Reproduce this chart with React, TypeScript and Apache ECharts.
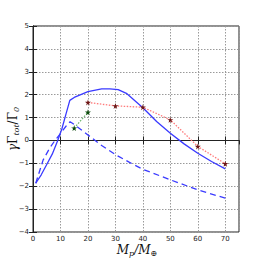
import React, { useEffect, useRef } from "react";
import * as echarts from "echarts";

// Solid blue curve
const solidX = [1, 3, 5, 7, 9, 10.5, 12, 13.4, 15, 20, 25, 28, 31, 34, 40, 45, 50, 55, 60, 65, 70];
const solidY = [-1.87, -1.5, -1.05, -0.6, 0, 0.5, 1.15, 1.75, 1.88, 2.13, 2.25, 2.25, 2.22, 2.06, 1.43, 0.83, 0.31, -0.15, -0.56, -0.92, -1.24];
// Dashed blue curve
const dashX = [1, 2.5, 3.7, 6, 8, 10, 12, 13.5, 15, 20, 25, 30, 35, 40, 50, 60, 70];
const dashY = [-1.87, -1.3, -0.85, -0.35, 0.0, 0.3, 0.62, 0.82, 0.7, 0.24, -0.22, -0.62, -0.95, -1.26, -1.72, -2.16, -2.52];
// Red dotted with markers
const redX = [20, 30, 40, 50, 60, 70];
const redY = [1.66, 1.51, 1.45, 0.9, -0.26, -1.02];
// Green dotted with markers
const greenX = [15, 20];
const greenY = [0.54, 1.23];

const xTicks = [0, 10, 20, 30, 40, 50, 60, 70];
const yTicks = [-4, -3, -2, -1, 0, 1, 2, 3, 4, 5];

const STAR = "path://M50,0 L61,35 L98,35 L68,57 L79,91 L50,70 L21,91 L32,57 L2,35 L39,35 Z";

const zip = (xs: number[], ys: number[]) => xs.map((x, i) => [x, ys[i]]);

export default function App() {
  const ref = useRef<HTMLDivElement>(null);
  useEffect(() => {
    if (!ref.current) return;
    const chart = echarts.init(ref.current, undefined, { renderer: "svg" });
    const fmt = (v: number) => String(v).replace("-", "\u2212");
    const labelStyle = { fontFamily: "DejaVu Sans", fontSize: 7, color: "#222" };
    const gridLine = { show: true, lineStyle: { color: "#9a9a9a", type: [1.5, 1.5] as any, width: 1 } };
    const tickStyle = { show: true, inside: true, length: 4, lineStyle: { color: "#222" } };
    chart.setOption({
      animation: false,
      backgroundColor: "#fff",
      grid: { left: 33, right: 27, top: 26, bottom: 34, show: true, borderColor: "#222", borderWidth: 1 },
      xAxis: [
        {
          type: "value", min: 0, max: 75, interval: 10,
          axisLine: { show: true, lineStyle: { color: "#222" } },
          axisTick: tickStyle,
          axisLabel: { ...labelStyle, margin: 3, showMaxLabel: false, formatter: (v: number) => (xTicks.includes(v) ? fmt(v) : "") },
          splitLine: gridLine,
        },
        {
          type: "value", position: "top", min: 0, max: 75, interval: 10,
          axisLine: { show: true, lineStyle: { color: "#222" } },
          axisTick: tickStyle,
          axisLabel: { show: false }, splitLine: { show: false },
        },
      ],
      yAxis: [
        {
          type: "value", min: -4, max: 5, interval: 1,
          axisLine: { show: true, lineStyle: { color: "#222" } },
          axisTick: tickStyle,
          axisLabel: { ...labelStyle, margin: 4, formatter: (v: number) => (yTicks.includes(v) ? fmt(v) : "") },
          splitLine: gridLine,
        },
        {
          type: "value", position: "right", min: -4, max: 5, interval: 1,
          axisLine: { show: true, lineStyle: { color: "#222" } },
          axisTick: tickStyle,
          axisLabel: { show: false }, splitLine: { show: false },
        },
      ],
      series: [
        {
          type: "line", data: zip(solidX, solidY), showSymbol: false, symbol: "none",
          lineStyle: { color: "#3a3aff", width: 1.3 }, z: 3,
        },
        {
          type: "line", data: zip(dashX, dashY), showSymbol: false, symbol: "none",
          lineStyle: { color: "#3a3aff", width: 1.3, type: [6, 4] }, z: 3,
        },
        {
          type: "line", data: zip(redX, redY), symbol: STAR, symbolSize: 6, showSymbol: true,
          itemStyle: { color: "#6e1515" },
          lineStyle: { color: "#ff7a7a", width: 1.3, type: [1.5, 1.5] }, z: 4,
        },
        {
          type: "line", data: zip(greenX, greenY), symbol: STAR, symbolSize: 6, showSymbol: true,
          itemStyle: { color: "#0d4a0d" },
          lineStyle: { color: "#70b870", width: 1.3, type: [1.5, 1.5] }, z: 4,
        },
      ],
      graphic: [
        {
          type: "text", x: 137, y: 250,
          style: {
            text: "{i|M}{s|p}{i|/M}{s|\u2295}",
            align: "center", verticalAlign: "middle",
            rich: {
              i: { fontFamily: "DejaVu Serif", fontStyle: "italic", fontSize: 12, fill: "#111" },
              s: { fontFamily: "DejaVu Serif", fontStyle: "italic", fontSize: 8, fill: "#111", padding: [6, 0, 0, 0] },
            },
          },
        },
        {
          type: "text", x: 13, y: 129, rotation: Math.PI / 2,
          style: {
            text: "{i|\u03b3}{u|\u0393}{s|tot}{u|/\u0393}{s|0}",
            align: "center", verticalAlign: "middle",
            rich: {
              i: { fontFamily: "DejaVu Serif", fontStyle: "italic", fontSize: 12, fill: "#111" },
              u: { fontFamily: "DejaVu Serif", fontSize: 12, fill: "#111" },
              s: { fontFamily: "DejaVu Serif", fontStyle: "italic", fontSize: 8, fill: "#111", padding: [6, 0, 0, 0] },
            },
          },
        },
      ],
    });
    return () => chart.dispose();
  }, []);
  return <div ref={ref} style={{ position: "fixed", left: 0, top: 0, width: 266, height: 266 }} />;
}
